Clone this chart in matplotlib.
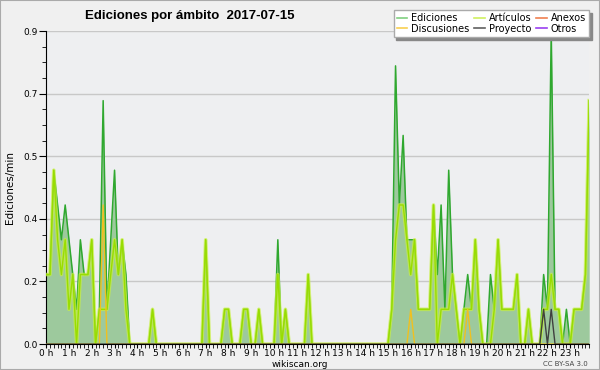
import numpy as np
import matplotlib
matplotlib.use("Agg")
import matplotlib.pyplot as plt
from matplotlib.lines import Line2D
from matplotlib.patches import Rectangle

# 10-minute bins, 0 h .. 23 h 50
ediciones = [
    0.2, 0.2, 0.5, 0.4, 0.3, 0.4, 0.3, 0.2, 0.1, 0.3, 0.2, 0.2, 0.3, 0.0, 0.1, 0.7, 0.1, 0.3, 0.5, 0.2, 0.3, 0.2, 0.0, 0.0,
    0.0, 0.0, 0.0, 0.0, 0.1, 0.0, 0.0, 0.0, 0.0, 0.0, 0.0, 0.0, 0.0, 0.0, 0.0, 0.0, 0.0, 0.0, 0.3, 0.0, 0.0, 0.0, 0.0, 0.1,
    0.1, 0.0, 0.0, 0.0, 0.1, 0.1, 0.0, 0.0, 0.1, 0.0, 0.0, 0.0, 0.0, 0.3, 0.0, 0.1, 0.0, 0.0, 0.0, 0.0, 0.0, 0.2, 0.0, 0.0,
    0.0, 0.0, 0.0, 0.0, 0.0, 0.0, 0.0, 0.0, 0.0, 0.0, 0.0, 0.0, 0.0, 0.0, 0.0, 0.0, 0.0, 0.0, 0.0, 0.1, 0.8, 0.4, 0.6, 0.3,
    0.3, 0.3, 0.1, 0.1, 0.1, 0.1, 0.4, 0.2, 0.4, 0.1, 0.5, 0.2, 0.1, 0.0, 0.1, 0.2, 0.1, 0.3, 0.1, 0.0, 0.0, 0.2, 0.1, 0.3,
    0.1, 0.1, 0.1, 0.1, 0.2, 0.0, 0.0, 0.1, 0.0, 0.0, 0.0, 0.2, 0.1, 0.9, 0.1, 0.1, 0.0, 0.1, 0.0, 0.1, 0.1, 0.1, 0.2, 0.7,
]
articulos = [
    0.2, 0.2, 0.5, 0.3, 0.2, 0.3, 0.1, 0.2, 0.0, 0.2, 0.2, 0.2, 0.3, 0.0, 0.1, 0.1, 0.1, 0.2, 0.3, 0.2, 0.3, 0.1, 0.0, 0.0,
    0.0, 0.0, 0.0, 0.0, 0.1, 0.0, 0.0, 0.0, 0.0, 0.0, 0.0, 0.0, 0.0, 0.0, 0.0, 0.0, 0.0, 0.0, 0.3, 0.0, 0.0, 0.0, 0.0, 0.1,
    0.1, 0.0, 0.0, 0.0, 0.1, 0.1, 0.0, 0.0, 0.1, 0.0, 0.0, 0.0, 0.0, 0.2, 0.0, 0.1, 0.0, 0.0, 0.0, 0.0, 0.0, 0.2, 0.0, 0.0,
    0.0, 0.0, 0.0, 0.0, 0.0, 0.0, 0.0, 0.0, 0.0, 0.0, 0.0, 0.0, 0.0, 0.0, 0.0, 0.0, 0.0, 0.0, 0.0, 0.1, 0.3, 0.4, 0.4, 0.3,
    0.2, 0.3, 0.1, 0.1, 0.1, 0.1, 0.4, 0.0, 0.1, 0.1, 0.1, 0.2, 0.1, 0.0, 0.1, 0.1, 0.1, 0.3, 0.1, 0.0, 0.0, 0.0, 0.1, 0.3,
    0.1, 0.1, 0.1, 0.1, 0.2, 0.0, 0.0, 0.1, 0.0, 0.0, 0.0, 0.1, 0.1, 0.2, 0.1, 0.1, 0.0, 0.0, 0.0, 0.1, 0.1, 0.1, 0.2, 0.7,
]
# sparse series: bin index -> value
discusiones = {15: 0.4, 96: 0.1, 111: 0.1}
proyecto = {131: 0.1, 133: 0.1}

hour_labels = [f"{h} h" for h in range(24)]

n = len(ediciones)
x = np.arange(n) / 6.0
disc = np.zeros(n)
for k, v in discusiones.items():
    disc[k] = v
proy = np.zeros(n)
for k, v in proyecto.items():
    proy[k] = v

fig = plt.figure(figsize=(6, 3.7), dpi=100, facecolor="#f0f0f0")
ax = fig.add_axes([0.077, 0.07, 0.905, 0.846])
ax.set_facecolor("#eeeff1")

ax.fill_between(x, 0, ediciones, color="#9dc99d", lw=0, zorder=2)
ax.plot(x, ediciones, color="#2fa82f", lw=1.1, zorder=3)
ax.plot(x, articulos, color="#c8f040", lw=2.6, alpha=0.7, zorder=4)
ax.plot(x, articulos, color="#99dd00", lw=1.0, zorder=5)
ax.plot(x, disc, color="#f0c020", lw=1.0, zorder=6)
ax.plot(x, proy, color="#404040", lw=1.0, zorder=7)

ax.set_xlim(0, (n - 1) / 6.0)
ax.set_ylim(0, 0.9)
yt = np.linspace(0, 0.9, 6)
ax.set_yticks(yt)
ax.set_yticklabels([f"{v:.1f}" for v in yt], fontsize=6.5)
ax.set_yticks(np.linspace(0, 0.9, 21), minor=True)
ax.set_xticks(np.arange(24))
ax.set_xticklabels(hour_labels, fontsize=6.5)
ax.set_xticks(np.arange(0, 24, 1 / 6.0), minor=True)
ax.tick_params(axis="x", which="both", length=3, pad=0.5)
ax.tick_params(axis="y", which="major", length=5, pad=1)
ax.tick_params(axis="y", which="minor", length=3)
ax.grid(axis="y", color="#c8c8c8", lw=1)
ax.set_axisbelow(True)
for s in ["top", "right"]:
    ax.spines[s].set_visible(False)
ax.set_ylabel("Ediciones/min", fontsize=7.5, labelpad=6)

fig.text(0.142, 0.948, "Ediciones por ámbito  2017-07-15", fontsize=9.5, weight="bold",
         family="Liberation Sans")
fig.text(0.5, 0.008, "wikiscan.org", fontsize=6.5, ha="center")
fig.text(0.98, 0.01, "CC BY-SA 3.0", fontsize=5, ha="right", color="#444444")

handles = [
    Line2D([], [], color="#80d080", lw=1.2, label="Ediciones"),
    Line2D([], [], color="#f8d050", lw=1.2, label="Discusiones"),
    Line2D([], [], color="#d0f060", lw=1.2, label="Artículos"),
    Line2D([], [], color="#606060", lw=1.2, label="Proyecto"),
    Line2D([], [], color="#f08050", lw=1.2, label="Anexos"),
    Line2D([], [], color="#9a40f0", lw=1.2, label="Otros"),
]
leg = fig.legend(handles=handles, ncol=3, loc="upper right", bbox_to_anchor=(0.99, 0.985),
                 fontsize=7, frameon=True, fancybox=False, shadow={"color": "#888888", "alpha": 1},
                 handlelength=1.1, handletextpad=0.4, columnspacing=0.5, labelspacing=0.05,
                 borderpad=0.3)
leg.get_frame().set_edgecolor("#aaaaaa")
leg.get_frame().set_linewidth(1)

fig.patches.append(Rectangle((0, 0), 1, 1, transform=fig.transFigure, fill=False,
                             edgecolor="#aaaaaa", lw=1.5))

fig.savefig("out.png", dpi=100, facecolor=fig.get_facecolor())
